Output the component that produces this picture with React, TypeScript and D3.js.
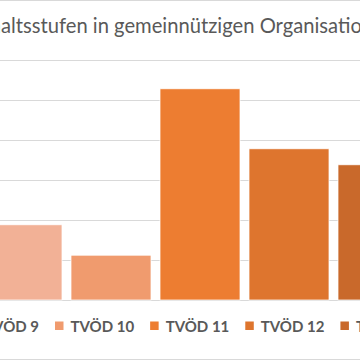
import React, { useEffect, useRef } from 'react';
import * as d3 from 'd3';

const title = 'Gehaltsstufen in gemeinnützigen Organisationen';
const categories = ['TVÖD 9', 'TVÖD 10', 'TVÖD 11', 'TVÖD 12', 'TVÖD 13'];
const values = [9.4, 5.6, 26.4, 18.9, 16.9];
const colors = ['#F2B196', '#F09B6E', '#ED7D31', '#DE752E', '#C9692B'];
const yTicks = [0, 5, 10, 15, 20, 25, 30];

export default function App() {
  const ref = useRef<SVGSVGElement>(null);

  useEffect(() => {
    if (!ref.current) return;
    const svg = d3.select(ref.current);
    svg.selectAll('*').remove();

    const W = 360;
    const H = 360;

    // chart frame (extends past the cropped view left/right)
    svg.append('rect')
      .attr('x', -300).attr('y', 0.5)
      .attr('width', W + 600).attr('height', H - 1)
      .attr('fill', '#fff').attr('stroke', '#d9d9d9');

    const y = d3.scaleLinear().domain([0, 30]).range([300, 60]);
    const x = d3.scaleBand<string>()
      .domain(categories)
      .range([-22.5, 422.5])
      .paddingInner(9 / 89)
      .paddingOuter(4.5 / 89);

    // gridlines
    svg.append('g')
      .selectAll('line')
      .data(yTicks)
      .join('line')
      .attr('x1', -300).attr('x2', W + 300)
      .attr('y1', d => Math.round(y(d)) + 0.5)
      .attr('y2', d => Math.round(y(d)) + 0.5)
      .attr('stroke', '#d9d9d9')
      .attr('stroke-width', 1);

    // bars
    svg.append('g')
      .selectAll('rect')
      .data(categories)
      .join('rect')
      .attr('x', d => x(d)!)
      .attr('y', (d, i) => y(values[i]))
      .attr('width', x.bandwidth())
      .attr('height', (d, i) => y(0) - y(values[i]))
      .attr('fill', (d, i) => colors[i])
      .attr('stroke', '#fff')
      .attr('stroke-width', 0.75);

    // title, positioned so the visible part lines up with the crop
    const t = svg.append('text')
      .attr('font-family', 'Lato, sans-serif')
      .attr('fill', '#595959')
      .attr('y', 33);
    const visible = 'altsstufen in gemeinnützigen Organisatio';
    t.attr('font-size', 20).text(visible);
    const w20 = (t.node() as SVGTextElement).getComputedTextLength();
    const fs = 20 * 361 / w20;
    t.attr('font-size', fs).text('Geh');
    const pre = (t.node() as SVGTextElement).getComputedTextLength();
    t.text(title).attr('x', 1 - pre);

    // legend
    const lg = svg.append('g');
    const items = categories.map((c, i) => {
      const tmp = lg.append('text')
        .attr('font-family', 'Lato, sans-serif')
        .attr('font-weight', 'bold')
        .attr('font-size', 15)
        .text(c);
      const w = (tmp.node() as SVGTextElement).getComputedTextLength();
      tmp.remove();
      return { c, i, w };
    });
    const gapText = 7;
    const box = 8.5;
    const itemGap = 16;
    let offs: number[] = [];
    let cur = 0;
    items.forEach(it => {
      offs.push(cur);
      cur += box + gapText + it.w + itemGap;
    });
    const start = 55 - offs[1];
    items.forEach((it, k) => {
      const x0 = start + offs[k];
      lg.append('rect')
        .attr('x', x0).attr('y', 321.5)
        .attr('width', box).attr('height', box)
        .attr('fill', colors[it.i]);
      lg.append('text')
        .attr('x', x0 + box + gapText)
        .attr('y', 332)
        .attr('font-family', 'Lato, sans-serif')
        .attr('font-weight', 'bold')
        .attr('font-size', 15)
        .attr('fill', '#595959')
        .text(it.c);
    });
  }, []);

  return (
    <svg ref={ref} width={360} height={360}
      style={{ position: 'absolute', left: 0, top: 0, display: 'block', background: '#fff' }} />
  );
}
